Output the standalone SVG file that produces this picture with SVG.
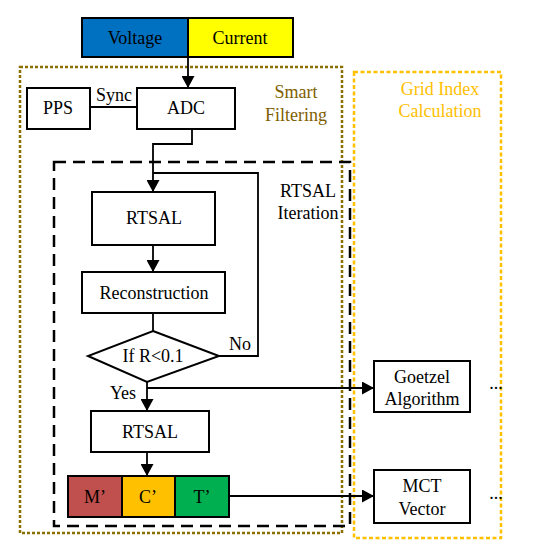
<svg xmlns="http://www.w3.org/2000/svg" width="545" height="547" viewBox="0 0 545 547">
<style>
.box{fill:#fff;stroke:#000;stroke-width:2}
.t{font-family:"Liberation Serif","Times New Roman","DejaVu Serif",serif;font-size:18px;fill:#000;text-anchor:middle}
.ln{fill:none;stroke:#000;stroke-width:1.8}
</style>
<defs>
<marker id="ah" markerWidth="12" markerHeight="13" viewBox="0 0 12 13" refX="11" refY="6.5" orient="auto" markerUnits="userSpaceOnUse">
<path d="M0,0 L12,6.5 L0,13 Z" fill="#000"/>
</marker>
</defs>
<rect width="545" height="547" fill="#fff"/>
<g id="smart-filtering">
<rect x="20" y="67" width="322" height="466" fill="none" stroke="#8B6F00" stroke-width="2.5" stroke-dasharray="3,2"/>
<text class="t" x="296" y="98" style="fill:#7F6000">Smart</text>
<text class="t" x="296" y="121" style="fill:#7F6000">Filtering</text>
</g>
<g id="grid-index">
<rect x="354" y="72" width="147" height="466" fill="none" stroke="#FFC000" stroke-width="2.5" stroke-dasharray="4,2.5"/>
<text class="t" x="440" y="95" style="fill:#FFC000">Grid Index</text>
<text class="t" x="440" y="117" style="fill:#FFC000">Calculation</text>
</g>
<g id="rtsal-iteration">
<rect x="54" y="162" width="296" height="364" fill="none" stroke="#000" stroke-width="2.5" stroke-dasharray="12,7"/>
<text class="t" x="308" y="197">RTSAL</text>
<text class="t" x="308" y="219">Iteration</text>
</g>
<g id="connectors">
<path class="ln" d="M188,57 V87" marker-end="url(#ah)"/>
<path class="ln" d="M90,107 H137"/>
<path class="ln" d="M192,129 V144 H153 V191" marker-end="url(#ah)"/>
<path class="ln" d="M219,356 H258 V173 H153"/>
<path class="ln" d="M153,245 V271" marker-end="url(#ah)"/>
<path class="ln" d="M153,313 V331"/>
<path class="ln" d="M147,382 V410" marker-end="url(#ah)"/>
<path class="ln" d="M147,388 H373" marker-end="url(#ah)"/>
<path class="ln" d="M147,452 V475" marker-end="url(#ah)"/>
<path class="ln" d="M229,496 H373" marker-end="url(#ah)"/>
<text class="t" x="114" y="101">Sync</text>
<text class="t" x="240" y="350">No</text>
<text class="t" x="123" y="399">Yes</text>
</g>
<g id="voltage"><rect x="82" y="18" width="106" height="39" fill="#0070C0" stroke="#000" stroke-width="2"/><text class="t" x="135" y="44">Voltage</text></g>
<g id="current"><rect x="188" y="18" width="105" height="39" fill="#FFFF00" stroke="#000" stroke-width="2"/><text class="t" x="240" y="44">Current</text></g>
<g id="pps"><rect class="box" x="27" y="88" width="63" height="41"/><text class="t" x="58" y="114">PPS</text></g>
<g id="adc"><rect class="box" x="137" y="88" width="98" height="41"/><text class="t" x="186" y="114">ADC</text></g>
<g id="rtsal1"><rect class="box" x="92" y="192" width="123" height="53"/><text class="t" x="154" y="224">RTSAL</text></g>
<g id="reconstruction"><rect class="box" x="82" y="272" width="143" height="41"/><text class="t" x="154" y="299">Reconstruction</text></g>
<g id="decision"><path d="M153,331 L219,356 L147,382 L88,356 Z" fill="#fff" stroke="#000" stroke-width="2"/><text class="t" x="153" y="362">If R&lt;0.1</text></g>
<g id="rtsal2"><rect class="box" x="91" y="411" width="118" height="41"/><text class="t" x="150" y="438">RTSAL</text></g>
<g id="mct-parts">
<rect x="68" y="476" width="54" height="41" fill="#C0504D" stroke="#000" stroke-width="2"/><text class="t" x="95" y="503">M’</text>
<rect x="122" y="476" width="53" height="41" fill="#FFC000" stroke="#000" stroke-width="2"/><text class="t" x="148" y="503">C’</text>
<rect x="175" y="476" width="54" height="41" fill="#00B050" stroke="#000" stroke-width="2"/><text class="t" x="202" y="503">T’</text>
</g>
<g id="goetzel"><rect class="box" x="374" y="361" width="96" height="51"/><text class="t" x="422" y="383">Goetzel</text><text class="t" x="422" y="405">Algorithm</text><text class="t" x="496" y="389">...</text></g>
<g id="mct"><rect class="box" x="374" y="470" width="96" height="53"/><text class="t" x="422" y="492">MCT</text><text class="t" x="422" y="515">Vector</text><text class="t" x="496" y="499">...</text></g>
</svg>
